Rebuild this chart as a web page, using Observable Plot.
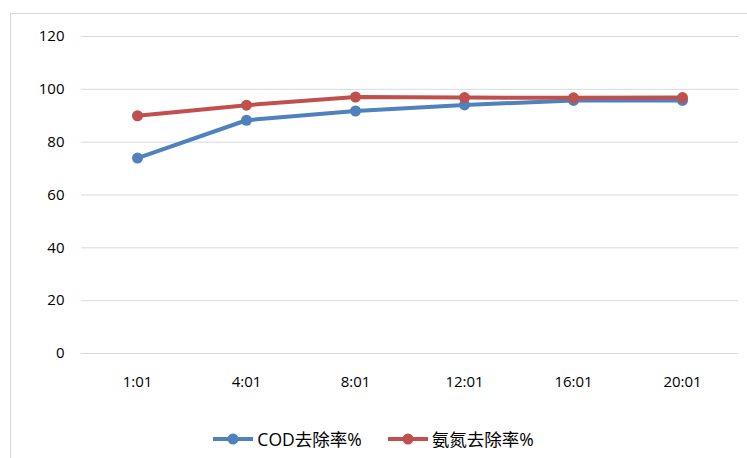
<!DOCTYPE html>
<html>
<head>
<meta charset="utf-8">
<script src="https://cdn.jsdelivr.net/npm/d3@7"></script>
<script src="https://cdn.jsdelivr.net/npm/@observablehq/plot@0.6"></script>
<style>
  body { margin: 0; background: #fff; width: 747px; height: 458px; overflow: hidden; position: relative;
         font-family: "Open Sans", "Noto Sans CJK SC", sans-serif; }
  #frame { position: absolute; left: 10px; top: 13px; width: 760px; height: 470px; border: 1px solid #d9d9d9; }
  #chart { position: absolute; left: 0; top: 0; }
  #legend { position: absolute; left: 0; top: 426px; width: 747px; display: flex; justify-content: center;
            gap: 26px; font-size: 17.5px; color: #000; font-family: "Open Sans", "Noto Sans CJK SC", sans-serif; }
  .item { display: flex; align-items: center; gap: 4px; }
</style>
</head>
<body>
<div id="frame"></div>
<div id="chart"></div>
<div id="legend"></div>
<script>
// Sampling times (categories) and removal rates (%)
const times = ["1:01", "4:01", "8:01", "12:01", "16:01", "20:01"];
const codRemoval = [74, 88.3, 91.8, 94.1, 95.8, 95.8];
const nh3Removal = [90, 94, 97.1, 96.9, 96.8, 96.9];
const seriesNames = ["COD去除率%", "氨氮去除率%"];
const seriesColors = ["#4f81bd", "#c0504d"];
const yTicks = [0, 20, 40, 60, 80, 100, 120];

const rows = [];
[codRemoval, nh3Removal].forEach((vals, s) => {
  vals.forEach((v, i) => rows.push({time: times[i], value: v, series: seriesNames[s]}));
});

const font = "\"Open Sans\", \"Noto Sans CJK SC\", sans-serif";

const chart = Plot.plot({
  width: 747,
  height: 410,
  marginLeft: 81,
  marginRight: 9,
  marginTop: 36,
  marginBottom: 57,
  style: {fontFamily: font, fontSize: "15px", color: "#000", background: "transparent"},
  x: {type: "point", domain: times, padding: 0.5, label: null},
  y: {domain: [0, 120], label: null},
  color: {domain: seriesNames, range: seriesColors},
  marks: [
    Plot.gridY(yTicks, {stroke: "#d9d9d9", strokeOpacity: 1, strokeWidth: 1}),
    Plot.axisY(yTicks, {tickSize: 0, tickPadding: 17, fontSize: 15, label: null}),
    Plot.axisX({tickSize: 0, tickPadding: 23, fontSize: 15, label: null}),
    Plot.line(rows, {x: "time", y: "value", z: "series", stroke: "series", strokeWidth: 4}),
    Plot.dot(rows, {x: "time", y: "value", fill: "series", r: 5.5})
  ]
});
document.getElementById("chart").appendChild(chart);

// Legend below the chart
const legend = d3.select("#legend");
seriesNames.forEach((name, i) => {
  const item = legend.append("div").attr("class", "item");
  const svg = item.append("svg").attr("width", 40).attr("height", 14);
  svg.append("line").attr("x1", 0).attr("x2", 40).attr("y1", 7).attr("y2", 7)
    .attr("stroke", seriesColors[i]).attr("stroke-width", 4);
  svg.append("circle").attr("cx", 20).attr("cy", 7).attr("r", 5.5).attr("fill", seriesColors[i]);
  item.append("span").text(name);
});
</script>
</body>
</html>
